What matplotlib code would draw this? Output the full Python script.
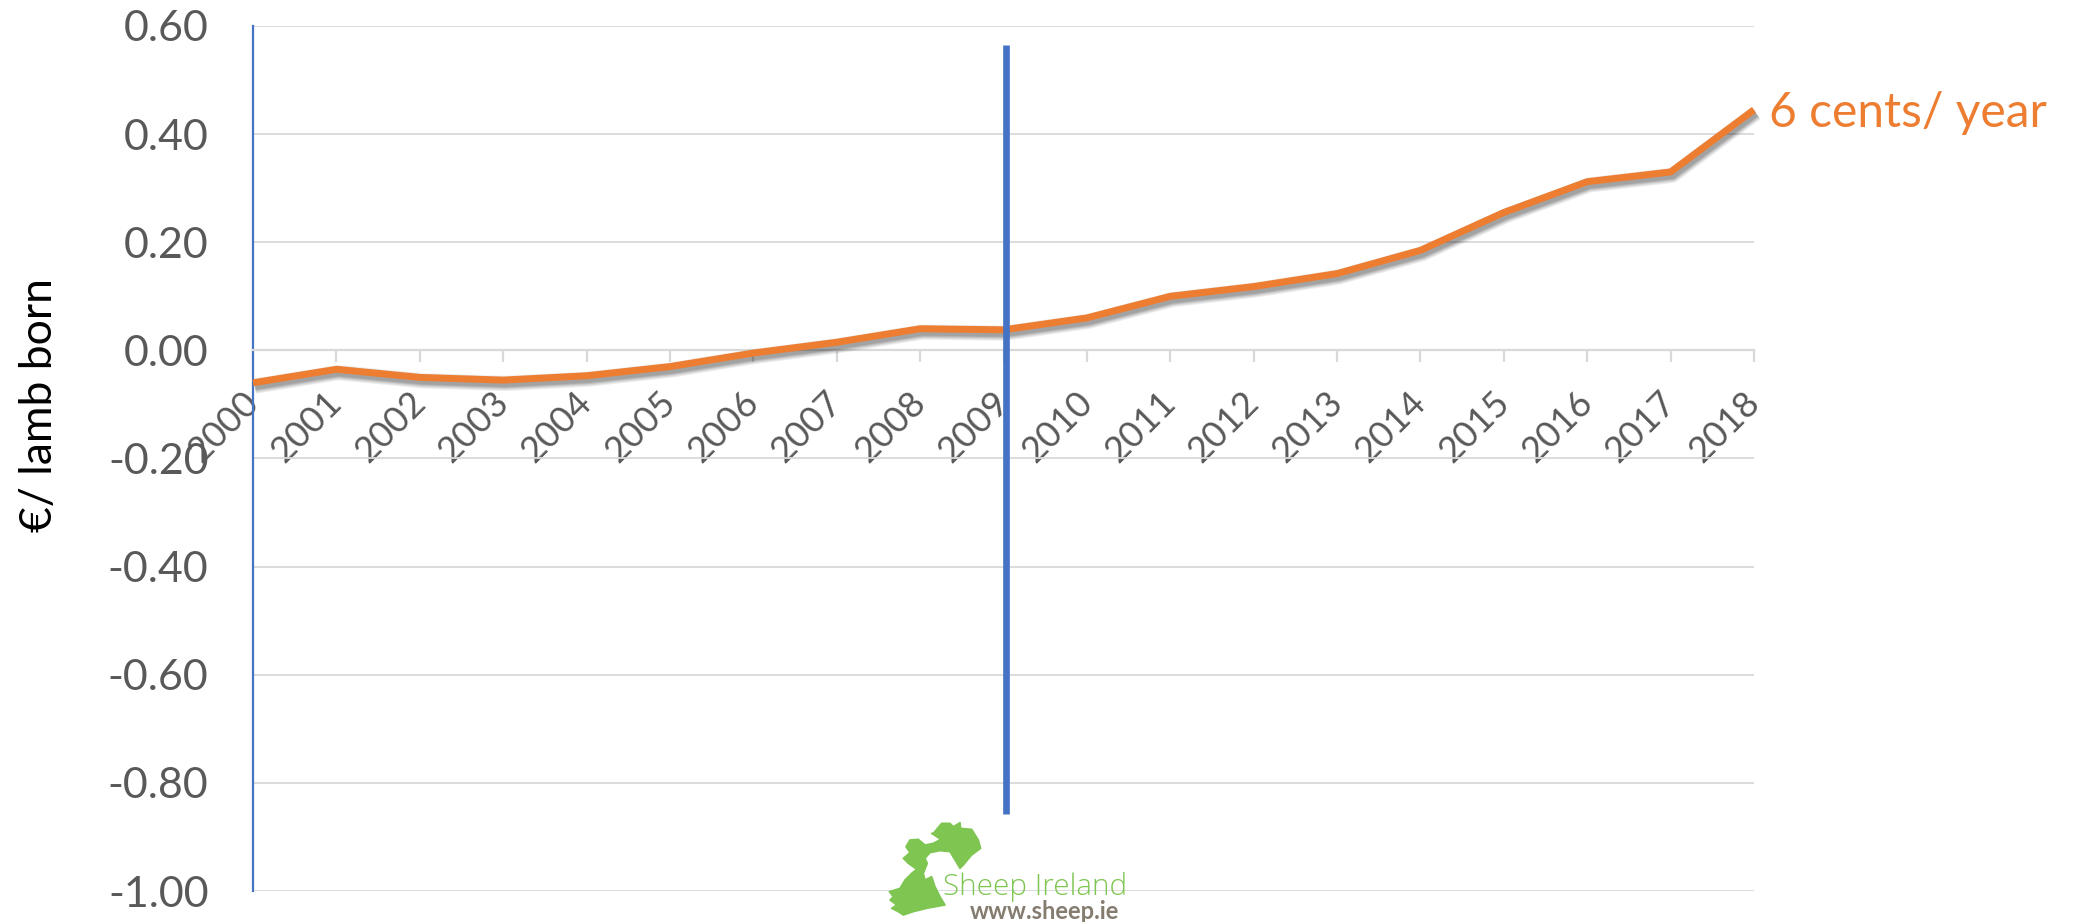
import matplotlib
matplotlib.use("Agg")
import matplotlib.pyplot as plt
import matplotlib.patheffects as pe
from matplotlib.patches import Polygon

years = list(range(2000, 2019))
values = [-0.06, -0.035, -0.05, -0.055, -0.047, -0.03, -0.005, 0.015, 0.04, 0.038,
          0.06, 0.10, 0.118, 0.142, 0.185, 0.255, 0.312, 0.33, 0.445]
y_ticks = [0.6, 0.4, 0.2, 0.0, -0.2, -0.4, -0.6, -0.8, -1.0]
marker_x = 2009.03
marker_span = [-0.858, 0.565]
end_label = "6 cents/ year"

ORANGE = "#ED7D31"
BLUE = "#4472C4"
GRID = "#D9D9D9"
TEXT = "#595959"
W, H = 2085, 922

plt.rcParams["font.family"] = ["Lato", "DejaVu Sans"]

fig = plt.figure(figsize=(W / 100, H / 100), dpi=100)
ax = fig.add_axes([253 / W, 1 - 891 / H, (1754 - 253) / W, (891 - 26) / H])
ax.set_xlim(years[0], years[-1])
ax.set_ylim(-1.0, 0.6)

ax.grid(axis="y", color=GRID, linewidth=1.3)
ax.set_axisbelow(True)
for side in ["top", "right"]:
    ax.spines[side].set_visible(False)
ax.spines["left"].set_color(BLUE)
ax.spines["left"].set_linewidth(1.6)
ax.spines["bottom"].set_position(("data", 0))
ax.spines["bottom"].set_color(GRID)
ax.spines["bottom"].set_linewidth(1.6)

ax.set_yticks(y_ticks)
ax.set_yticklabels([f"{v:.2f}" for v in y_ticks], fontsize=31, color=TEXT)
ax.tick_params(axis="y", length=0, pad=32)
ax.set_xticks(years)
ax.set_xticklabels(years, fontsize=26, color=TEXT, rotation=45, ha="right",
                   va="center", rotation_mode="anchor")
ax.tick_params(axis="x", length=8.5, width=1.6, color=GRID, pad=25)

# soft drop shadow under the series
shadow = [pe.SimpleLineShadow(offset=(1.4, -2.4), shadow_color="#000000", alpha=0.07,
                              linewidth=lw) for lw in (11, 9.5, 8, 7, 6, 5)]
ax.plot(years, values, color=ORANGE, linewidth=5, zorder=4, clip_on=False,
        solid_joinstyle="round", solid_capstyle="butt", path_effects=shadow + [pe.Normal()])
ax.plot([marker_x, marker_x], marker_span, color=BLUE, linewidth=4.8,
        solid_capstyle="butt", zorder=5)

ax.annotate(end_label, (years[-1], values[-1]), xytext=(11, -2), textcoords="offset points",
            fontsize=34.5, color=ORANGE, va="center", ha="left", annotation_clip=False)
fig.text(40 / W, 1 - 405 / H, "€/ lamb born", rotation=90, fontsize=32, color="black",
         ha="center", va="center")

# logo panel, outline coordinates in the panel's own units
logo = fig.add_axes([850 / W, 1 - 922 / H, 320 / W, 142 / H])
logo.set_xlim(0, 960)
logo.set_ylim(426, 0)
logo.axis("off")
logo.patch.set_alpha(0)
outline = [(250, 160), (275, 130), (300, 130), (310, 140), (330, 128), (332, 145), (365, 148),
           (385, 180), (392, 205), (365, 225), (340, 255), (330, 265), (315, 240), (300, 215),
           (270, 212), (240, 218), (225, 235), (232, 250), (220, 280), (225, 300), (245, 290),
           (255, 320), (270, 350), (285, 375), (230, 385), (190, 395), (160, 405), (145, 395),
           (125, 385), (140, 375), (120, 360), (130, 350), (118, 335), (150, 325), (165, 300),
           (185, 280), (200, 268), (175, 250), (160, 235), (180, 218), (168, 200), (180, 180),
           (205, 178), (225, 195), (250, 190), (272, 178), (245, 160)]
logo.add_patch(Polygon(outline, closed=True, facecolor="#7FC552", edgecolor="#7FC552",
                       linewidth=1.2, joinstyle="round"))
logo.text(278, 344, "Sheep Ireland", fontsize=21.3, color="#7FC552", family="Open Sans",
          weight="light", ha="left", va="baseline")
logo.text(360, 416, "www.sheep.ie", fontsize=17, color="#857C70", weight="bold",
          ha="left", va="baseline")

fig.savefig("out.png", dpi=100)
